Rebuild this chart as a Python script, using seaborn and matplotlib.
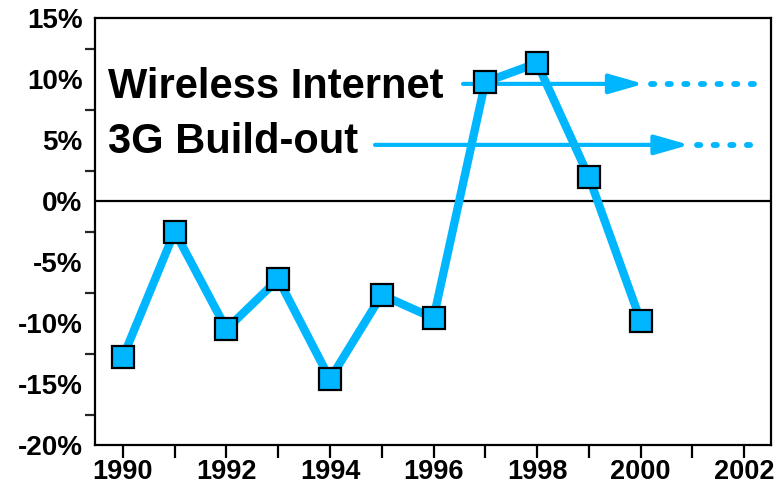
import matplotlib
matplotlib.use("Agg")
import matplotlib.pyplot as plt
from matplotlib.ticker import MultipleLocator, FuncFormatter
import seaborn as sns
import pandas as pd

# Annual change, percent
years = [1990, 1991, 1992, 1993, 1994, 1995, 1996, 1997, 1998, 1999, 2000]
change_pct = [-12.8, -2.5, -10.5, -6.4, -14.6, -7.7, -9.6, 9.75, 11.3, 2.0, -9.8]

# Outlook annotations: label, level (%), arrow start, arrow tip, dotted end (years)
labels = ["Wireless Internet", "3G Build-out"]
label_levels = [8.45, 3.9]
arrow_levels = [9.6, 4.6]
arrow_starts = [1996.57, 1994.87]
arrow_tips = [2000.06, 2000.94]
dotted_ends = [2002.45, 2002.3]

BLUE = "#00B7FF"

sns.set_style("white")
plt.rcParams["font.family"] = ["Liberation Sans", "DejaVu Sans"]
plt.rcParams["font.weight"] = "bold"

fig = plt.figure(figsize=(7.78, 4.88), dpi=100)
ax = fig.add_axes([95 / 778, 1 - 445 / 488, (771 - 95) / 778, (445 - 18) / 488])

df = pd.DataFrame({"year": years, "change": change_pct})
sns.lineplot(data=df, x="year", y="change", ax=ax, color=BLUE, lw=6,
             marker="s", markersize=15.5, markerfacecolor=BLUE,
             markeredgecolor="black", markeredgewidth=1.6, zorder=5)

ax.axhline(0, color="black", lw=1.6, zorder=2)

for lab, ly, ay, x0, x1, x2 in zip(labels, label_levels, arrow_levels,
                                   arrow_starts, arrow_tips, dotted_ends):
    ax.text(1989.71, ly, lab, fontsize=30, fontweight="bold", ha="left",
            va="baseline", color="black", zorder=6)
    ax.annotate("", xy=(x1, ay), xytext=(x0, ay),
                arrowprops=dict(arrowstyle="-|>,head_length=21,head_width=6",
                                mutation_scale=1, lw=3, color=BLUE,
                                shrinkA=0, shrinkB=0), zorder=4)
    ax.plot([x1 + 0.15, x2], [ay, ay], color=BLUE, lw=4.2,
            linestyle=(0, (0.55, 2.3)), dash_capstyle="round", zorder=4)

ax.set_xlim(1989.46, 2002.52)
ax.set_ylim(-20, 15)
ax.set_xlabel("")
ax.set_ylabel("")

ax.xaxis.set_major_locator(MultipleLocator(2))
ax.xaxis.set_minor_locator(MultipleLocator(1))
ax.yaxis.set_major_locator(MultipleLocator(5))
ax.yaxis.set_minor_locator(MultipleLocator(2.5))
ax.yaxis.set_major_formatter(FuncFormatter(lambda v, p: f"{v:.0f}%"))
ax.xaxis.set_major_formatter(FuncFormatter(lambda v, p: f"{v:.0f}"))

ax.tick_params(axis="y", which="major", direction="inout", length=14,
               width=1.6, labelsize=20, pad=2, colors="black")
ax.tick_params(axis="y", which="minor", direction="out", length=7,
               width=1.6, left=True)
ax.tick_params(axis="x", which="both", direction="out", length=9,
               width=1.6, labelsize=19.5, pad=1, bottom=True, colors="black")

for lab in ax.get_xticklabels() + ax.get_yticklabels():
    lab.set_fontweight("bold")

for side in ["left", "bottom", "top", "right"]:
    ax.spines[side].set_visible(True)
    ax.spines[side].set_color("black")
    ax.spines[side].set_linewidth(1.6)

fig.savefig("out.png", dpi=100)
